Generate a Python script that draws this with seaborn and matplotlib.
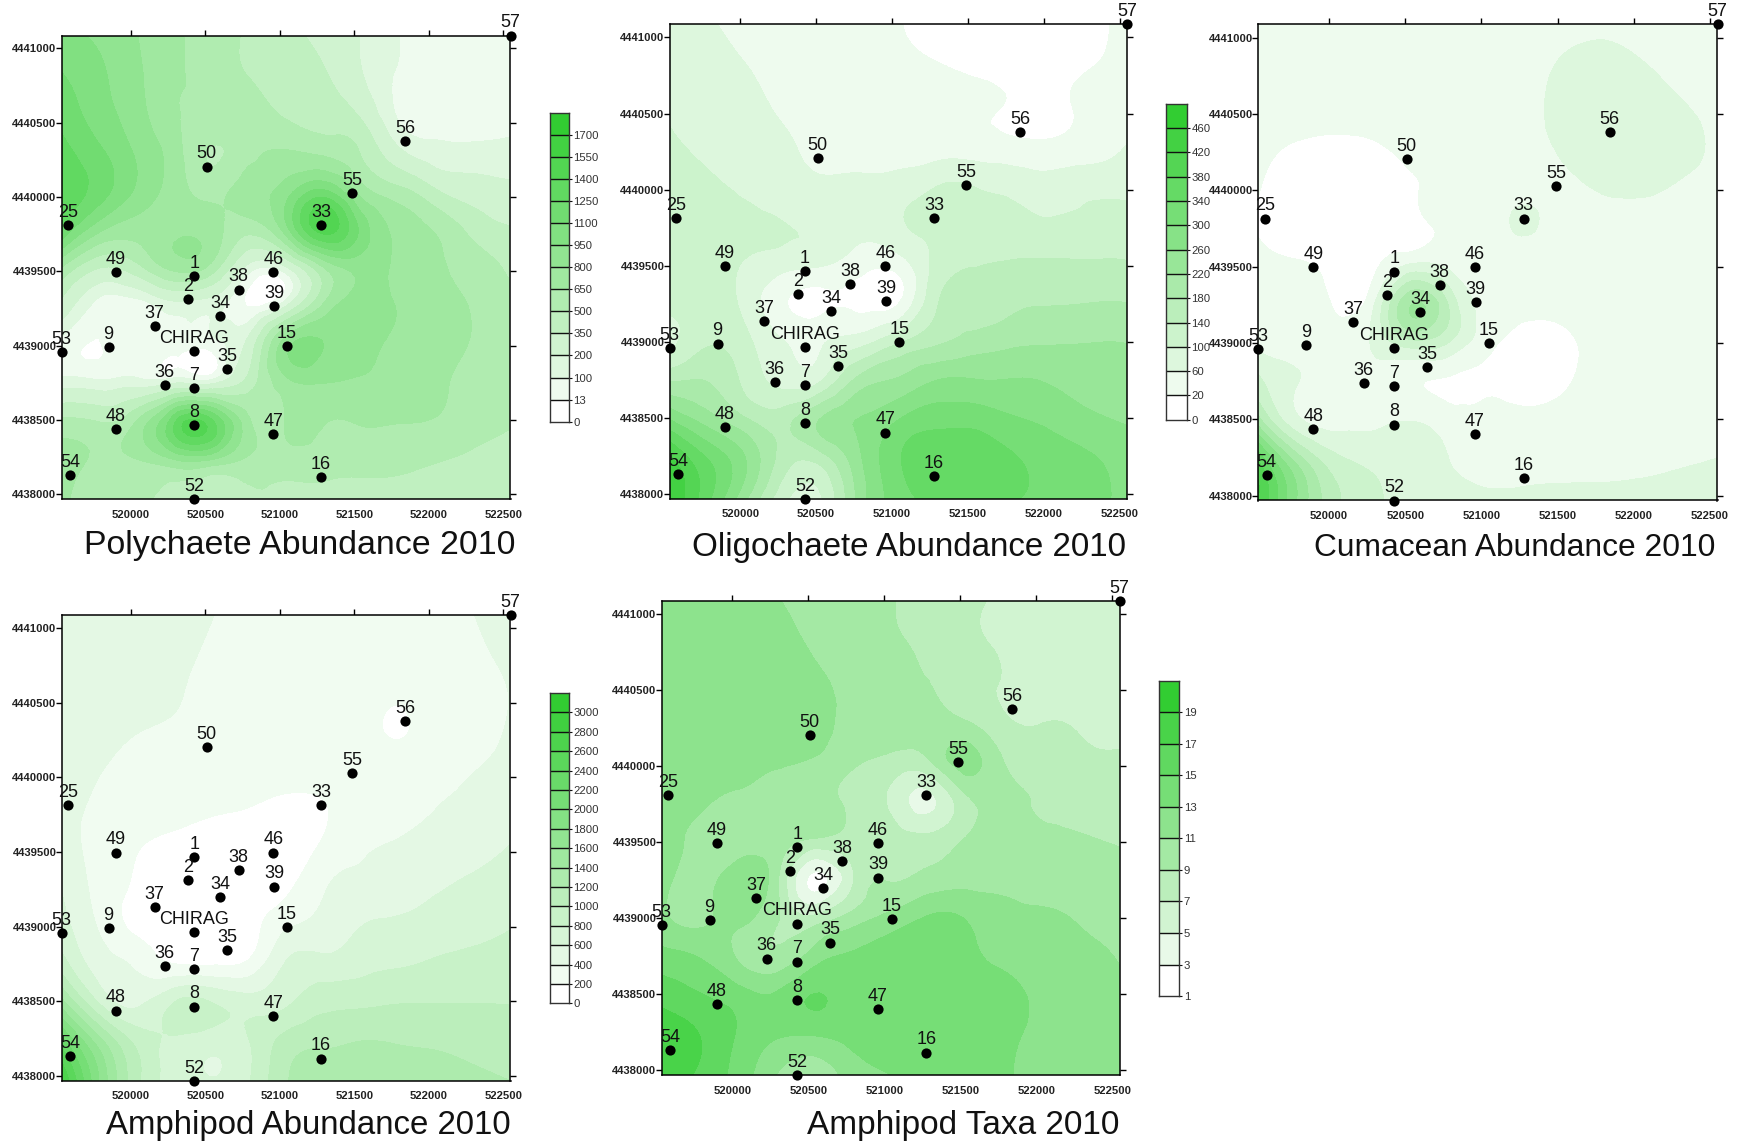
import numpy as np
import pandas as pd
import matplotlib
matplotlib.use("Agg")
import matplotlib.pyplot as plt
import matplotlib.tri as mtri
from matplotlib.colors import ListedColormap
from matplotlib.ticker import FormatStrFormatter
import seaborn as sns

# ---------- stations ----------
station_names = ["1","2","7","8","9","15","16","25","33","34","35","36","37","38","39","46","47","48","49","50","52","53","54","55","56","57","CHIRAG"]
station_x = [520427,520383,520427,520427,519851,521048,521277,519579,521277,520599,520645,520226,520159,520725,520961,520956,520956,519897,519897,520509,520427,519535,519591,521488,521842,522549,520427]
station_y = [4439467,4439311,4438716,4438465,4438988,4438998,4438117,4439814,4439814,4439200,4438841,4438736,4439134,4439377,4439269,4439496,4438403,4438438,4439496,4440205,4437968,4438958,4438132,4440027,4440379,4441086,4438966]

x_ticks = [520000,520500,521000,521500,522000,522500]
y_ticks = [4438000,4438500,4439000,4439500,4440000,4440500,4441000]
x_min, x_max = 519535, 522549
y_min, y_max = 4437968, 4441086

# ---------- surfaces (rows top to bottom, columns left to right) ----------
polychaete = [
[1000,920,805,680,575,480,400,300,195,102,70,60,60],
[1105,980,830,680,590,495,440,365,210,90,65,60,60],
[1200,1020,860,670,610,570,480,430,320,85,60,60,60],
[1300,1130,930,720,490,600,660,610,490,230,130,125,135],
[1380,1180,930,730,600,720,870,1110,720,540,360,270,230],
[1260,850,720,760,720,560,900,1480,1060,750,630,450,360],
[650,360,450,700,600,160,190,650,850,760,670,590,470],
[300,60,50,150,130,8,200,680,860,790,700,640,540],
[60,10,50,60,60,250,900,950,860,760,700,640,560],
[150,130,150,200,180,420,750,800,780,740,680,600,540],
[540,500,660,1220,1300,680,660,660,660,655,640,560,510],
[700,620,640,780,780,620,580,570,560,550,510,470,440],
[680,560,510,450,380,480,470,430,420,410,400,390,380]]

oligochaete = [
[80,64,50,44,38,30,21,12,8,5,8,15,25],
[88,75,60,48,40,32,26,21,12,8,8,18,30],
[97,85,72,53,44,36,32,30,28,17,12,27,40],
[103,93,82,65,48,38,36,34,33,26,24,32,60],
[118,105,92,76,64,67,75,95,95,85,75,85,88],
[130,118,108,100,85,72,95,112,112,108,103,108,112],
[128,118,98,80,70,40,45,112,137,142,143,142,141],
[118,125,85,25,10,8,15,135,155,170,176,178,178],
[85,135,110,60,55,80,130,170,195,210,215,218,218],
[175,178,128,85,100,195,225,260,262,262,255,240,230],
[300,240,185,165,225,262,300,325,325,305,290,270,255],
[430,340,260,160,160,255,335,372,368,345,320,305,280],
[455,350,225,110,100,240,320,352,350,342,325,310,290]]

cumacean = [
[40,40,40,40,40,40,40,40,42,50,45,40,40],
[38,38,38,38,38,38,38,45,65,72,62,50,40],
[35,35,35,35,35,36,38,48,72,78,75,63,45],
[28,19,15,18,32,38,40,45,68,78,80,75,50],
[22,8,5,5,17,32,38,45,52,68,72,58,45],
[18,8,5,5,10,30,42,65,42,40,40,38,36],
[28,22,8,10,55,45,38,40,40,38,38,36,35],
[36,38,15,50,215,130,45,28,35,36,36,36,36],
[48,38,36,65,130,100,32,8,12,35,36,36,36],
[110,62,40,40,25,15,15,5,15,35,36,36,36],
[200,72,45,50,60,40,30,30,33,36,36,36,36],
[380,210,115,90,75,60,45,48,50,50,52,56,62],
[420,260,150,108,80,74,70,68,68,68,68,68,70]]

amphipod = [
[540,520,490,450,405,340,300,280,280,300,340,398,440],
[530,510,480,440,375,320,290,270,265,280,325,375,430],
[520,490,460,420,340,300,280,260,250,225,290,340,405],
[510,470,405,370,310,280,270,250,240,190,270,340,420],
[500,410,340,310,280,260,250,240,250,260,320,395,450],
[480,360,300,270,225,195,150,190,260,320,400,450,510],
[490,330,210,130,80,60,60,240,370,430,480,530,610],
[590,340,170,70,40,40,150,385,450,520,580,640,700],
[680,380,150,80,60,110,370,450,595,630,680,740,790],
[900,510,370,210,190,250,620,680,740,780,830,860,890],
[1500,800,560,810,810,700,770,930,960,995,1000,1000,995],
[2300,1500,950,760,680,790,1080,1170,1205,1190,1170,1130,1090],
[2800,1800,1050,700,610,780,1180,1300,1320,1310,1290,1250,1200]]

amphipod_taxa = [
[12.5,12.2,11.8,11.1,10.4,9.7,9.1,8.2,7.4,6.7,6.3,6.1,6.0],
[12.6,12.3,12.0,11.6,10.7,9.8,9.2,8.6,7.6,6.6,6.2,6.0,6.0],
[12.7,12.4,12.2,11.9,11.3,10.5,9.7,9.0,8.2,6.8,6.3,6.2,6.1],
[12.7,12.4,12.2,11.9,11.5,10.5,9.8,9.6,8.9,7.2,6.9,6.7,6.4],
[12.4,12.1,11.7,11.3,10.9,9.5,8.6,9.0,11.8,8.8,8.1,7.5,7.2],
[12.2,11.4,10.7,10.4,10.1,8.4,6.6,4.5,8.7,9.6,8.7,8.3,7.9],
[11.8,10.6,10.2,10.0,9.0,8.6,8.0,7.5,9.1,9.8,9.4,9.1,8.8],
[11.6,10.6,11.8,9.6,2.5,6.8,8.8,9.6,10.3,10.5,10.2,9.9,9.7],
[11.4,10.6,11.5,9.3,7.5,9.8,11.6,13.2,12.8,11.6,11.3,10.8,10.4],
[13.8,12.9,10.8,9.5,12.0,13.3,14.0,14.5,13.5,12.6,12.2,11.6,10.9],
[16.3,15.2,14.0,13.4,15.1,14.0,14.3,14.4,14.2,13.5,12.8,12.4,11.4],
[18.4,17.0,14.8,13.2,13.0,13.6,14.2,14.4,14.2,13.4,12.6,12.2,11.9],
[18.6,16.6,14.2,11.0,9.5,12.0,13.0,14.2,14.2,13.2,12.5,12.1,11.9]]

# ---------- contour levels (as in each legend) ----------
levels_poly = [0,13,100,200,350,500,650,800,950,1100,1250,1400,1550,1700]
levels_oligo = [0,20,60,100,140,180,220,260,300,340,380,420,460]
levels_cuma = [0,20,60,100,140,180,220,260,300,340,380,420,460]
levels_amph = [0,200,400,600,800,1000,1200,1400,1600,1800,2000,2200,2400,2600,2800,3000]
levels_taxa = [1,3,5,7,9,11,13,15,17,19]

titles = ["Polychaete Abundance 2010","Oligochaete Abundance 2010","Cumacean Abundance 2010",
          "Amphipod Abundance 2010","Amphipod Taxa 2010"]

W, H = 1737, 1142
sns.set_theme(style="ticks")
plt.rcParams["font.family"] = ["Liberation Sans", "DejaVu Sans"]
fig = plt.figure(figsize=(W/100, H/100), dpi=100, facecolor="white")

def axes_px(l, t, r, b):
    return fig.add_axes([l/W, 1-b/H, (r-l)/W, (b-t)/H])

def band_colors(n):
    low, high = np.array([1,1,1.]), np.array([50,205,50.])/255
    return [tuple(low+(high-low)*i/(n-1)) for i in range(n)]

stations = pd.DataFrame({"x":station_x,"y":station_y,"name":station_names})

def draw_map(box, field, levels, cbar_box, title, title_xy, title_size):
    ax = axes_px(*box)
    z = np.array(field, float)
    rows, cols = z.shape
    gx, gy = np.meshgrid(np.linspace(x_min,x_max,cols), np.linspace(y_max,y_min,rows))
    tri = mtri.Triangulation(gx.ravel()-x_min, gy.ravel()-y_min)
    fine, zf = mtri.UniformTriRefiner(tri).refine_field(z.ravel(), subdiv=3)
    fine = mtri.Triangulation(fine.x+x_min, fine.y+y_min, fine.triangles)
    cols_b = band_colors(len(levels))
    ax.tricontourf(fine, zf, levels=levels[1:], colors=cols_b, extend="both")
    sns.scatterplot(data=stations, x="x", y="y", color="black", s=54, linewidth=0,
                    ax=ax, clip_on=False, zorder=5, legend=False)
    for n, x, y in zip(station_names, station_x, station_y):
        ax.annotate(n, (x,y), xytext=(0,3), textcoords="offset points", ha="center", va="bottom",
                    fontsize=13, color="#111111", annotation_clip=False, zorder=6)
    ax.set_xlim(x_min,x_max); ax.set_ylim(y_min,y_max)
    ax.set_xticks(x_ticks); ax.set_yticks(y_ticks)
    ax.yaxis.set_major_formatter(FormatStrFormatter("%d"))
    ax.xaxis.set_major_formatter(FormatStrFormatter("%d"))
    ax.set_xlabel(""); ax.set_ylabel("")
    ax.tick_params(axis="x", top=True, bottom=False, length=4.2, width=1, labelsize=8.1, pad=3.5, color="black")
    ax.tick_params(axis="y", left=True, right=True, length=4.2, width=1, labelsize=8.1, pad=-0.5, color="black")
    for lab in ax.get_xticklabels()+ax.get_yticklabels():
        lab.set_fontweight("bold"); lab.set_color("#222222")
    for s in ax.spines.values():
        s.set_visible(True); s.set_linewidth(1.1); s.set_color("black")
    fig.text(title_xy[0]/W, 1-title_xy[1]/H, title, ha="right", va="baseline", fontsize=title_size, color="#111111")
    if cbar_box is not None:
        cax = axes_px(*cbar_box)
        n = len(levels)
        idx = np.arange(n)[:,None]
        sns.heatmap(idx, cmap=ListedColormap(cols_b), cbar=False, ax=cax, xticklabels=False, vmin=-.5, vmax=n-.5)
        cax.invert_yaxis()
        cax.set_ylim(0,n)
        cax.hlines(range(1,n), 0, 1, color="#111111", lw=1.0)
        cax.yaxis.tick_right()
        cax.set_yticks(range(n)); cax.set_yticklabels([str(v) for v in levels], rotation=0)
        cax.tick_params(axis="y", right=True, left=False, length=2, width=.8, labelsize=8.2, pad=1.5, color="#111111", labelcolor="#333333")
        for s in cax.spines.values():
            s.set_visible(True); s.set_linewidth(1.0); s.set_color("#333333")

draw_map((61.6,35.6,510.5,499.1), polychaete, levels_poly, (549.6,112.7,568.7,421.7), titles[0], (516,554), 24.4)
draw_map((669.6,24.4,1127.3,498.7), oligochaete, levels_oligo, (1166.4,103.6,1186.7,419.8), titles[1], (1126,556), 23.85)
draw_map((1258.2,24.4,1717.5,500.5), cumacean, levels_cuma, None, titles[2], (1715,556), 22.9)
draw_map((61.6,615.2,510.5,1080.8), amphipod, levels_amph, (549.6,693,568.7,1003.4), titles[3], (511,1134), 23.75)
draw_map((661.6,601.4,1119.7,1075.3), amphipod_taxa, levels_taxa, (1159.1,680.5,1179,996.1), titles[4], (1119,1134), 24.0)

fig.savefig("out.png", dpi=100, facecolor="white")
